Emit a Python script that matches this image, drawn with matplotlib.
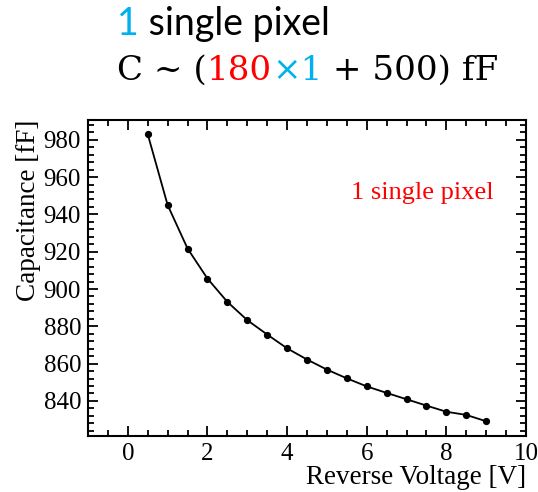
"""
C-V curve of a single pixel: capacitance vs reverse bias voltage.
Writes: out.png
"""

import matplotlib
matplotlib.use("Agg")
import matplotlib.pyplot as plt
from matplotlib.ticker import MultipleLocator

voltage = [0.5, 1.0, 1.5, 2.0, 2.5, 3.0, 3.5, 4.0, 4.5, 5.0,
           5.5, 6.0, 6.5, 7.0, 7.5, 8.0, 8.5, 9.0]
capacitance = [983.0, 945.0, 921.7, 905.6, 893.1, 883.3, 875.6, 868.2, 862.2,
               856.8, 852.1, 847.8, 844.3, 840.9, 837.5, 834.2, 832.5, 829.1]

header_line1 = [("1", "#00b0f0"), (" single pixel", "black")]
header_line2 = [("C ~ (", "black"), ("180", "#ff0000"), ("\u00d71", "#00b0f0"),
                (" + 500) fF", "black")]
inner_label = "1 single pixel"

SERIF = "Liberation Serif"
W, H, DPI = 538, 492, 100


def draw_pieces(fig, pieces, x0, y0, **kw):
    """Place coloured text pieces one after another along a baseline (pixels)."""
    renderer = fig.canvas.get_renderer()
    x = x0
    for txt, color in pieces:
        t = fig.text(x / W, 1 - y0 / H, txt, color=color, va="baseline",
                     ha="left", **kw)
        bb = t.get_window_extent(renderer=renderer)
        x += bb.width


def main():
    fig = plt.figure(figsize=(W / DPI, H / DPI), dpi=DPI)
    ax = fig.add_axes([88 / W, 1 - 436 / H, (526 - 88) / W, (436 - 120) / H])

    ax.plot(voltage, capacitance, "-", color="black", lw=1.3)
    ax.plot(voltage, capacitance, "o", color="black", ms=4.2)

    ax.set_xlim(-1, 10)
    ax.set_ylim(821.2, 990.6)
    ax.xaxis.set_major_locator(MultipleLocator(2))
    ax.xaxis.set_minor_locator(MultipleLocator(0.5))
    ax.yaxis.set_major_locator(MultipleLocator(20))
    ax.yaxis.set_minor_locator(MultipleLocator(4))
    ax.tick_params(which="both", direction="in", top=True, right=True,
                   width=1.3, labelsize=18, pad=5)
    ax.tick_params(which="major", length=7)
    ax.tick_params(which="minor", length=4)
    for lab in ax.get_xticklabels() + ax.get_yticklabels():
        lab.set_fontfamily(SERIF)
    for sp in ax.spines.values():
        sp.set_linewidth(1.5)

    ax.set_xlabel("Reverse Voltage [V]", fontfamily=SERIF, fontsize=19.5,
                  loc="right", labelpad=0)
    ax.set_ylabel("Capacitance [fF]", fontfamily=SERIF, fontsize=19.5,
                  loc="top", labelpad=2)

    ax.text(5.6, 951.5, inner_label, color="#ff0000", fontfamily=SERIF,
            fontsize=19, va="center", ha="left")

    draw_pieces(fig, header_line1, 117, 35, fontfamily="Lato", fontsize=27)
    draw_pieces(fig, header_line2, 117, 80, fontfamily="DejaVu Serif",
                fontsize=24.6)

    fig.savefig("out.png", dpi=DPI)
    plt.close(fig)


if __name__ == "__main__":
    main()
